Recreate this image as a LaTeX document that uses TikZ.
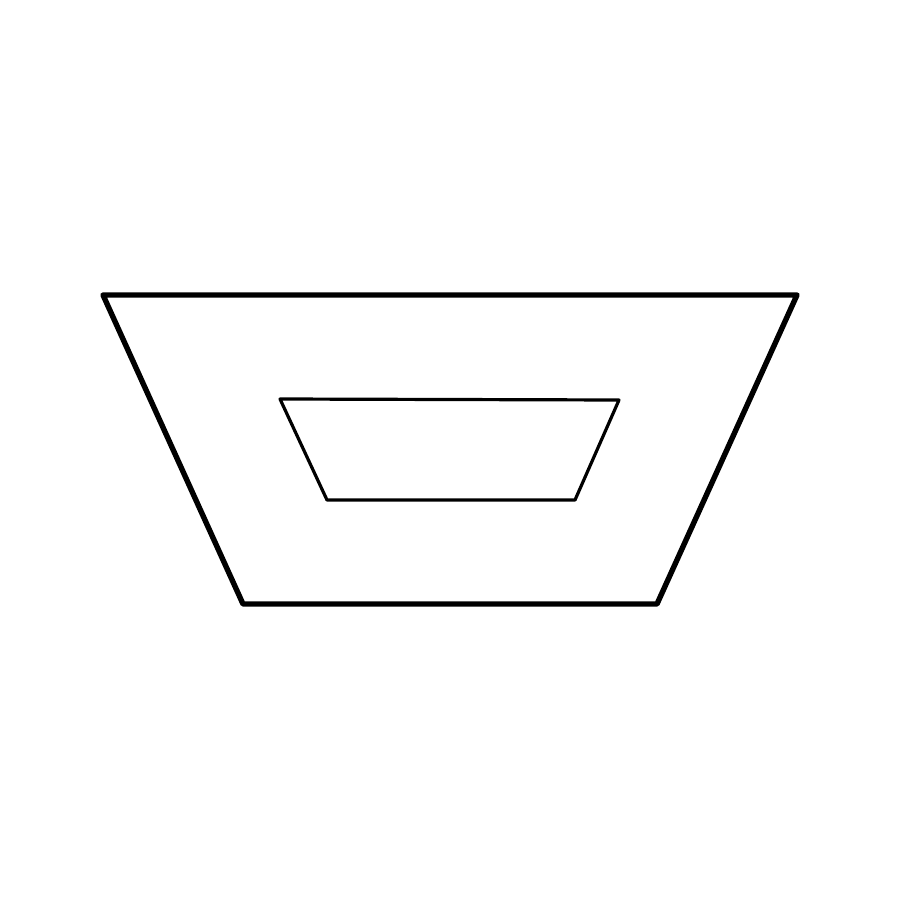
\documentclass[tikz,border=0pt]{standalone}
\begin{document}
\begin{tikzpicture}[x=1pt,y=-1pt,
  outerline/.style={draw=black,line width=5.4pt,line join=round,line cap=round},
  innerline/.style={draw=black,line width=3.2pt,line join=round}]
\useasboundingbox[fill=white] (0,0) rectangle (901,901);
\coordinate (o1) at (103,295);
\coordinate (o2) at (797,295);
\coordinate (o3) at (657,604);
\coordinate (o4) at (243,604);
\coordinate (i1) at (280,399);
\coordinate (i2) at (619,400);
\coordinate (i3) at (575,500);
\coordinate (i4) at (327,500);
\draw[outerline] (o1) -- (o2) -- (o3) -- (o4) -- cycle;
\draw[innerline] (i1) -- (i2) -- (i3) -- (i4) -- cycle;
\end{tikzpicture}
\end{document}
